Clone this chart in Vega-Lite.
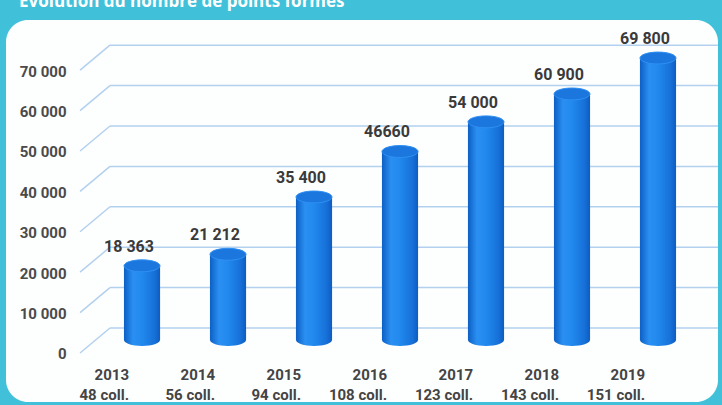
{
  "$schema": "https://vega.github.io/schema/vega-lite/v6.json",
  "autosize": {"type": "none"},
  "width": 712,
  "height": 382,
  "padding": {"left": 6, "top": 20, "right": 4, "bottom": 3},
  "background": "#41c1d9",
  "title": {
    "text": "Evolution du nombre de points formés",
    "anchor": "start",
    "frame": "group",
    "offset": -4,
    "baseline": "alphabetic",
    "dx": 13,
    "color": "#ffffff",
    "font": "Open Sans",
    "fontSize": 17,
    "fontWeight": "bold"
  },
  "datasets": {
    "bars": [
      {"year": "2013", "coll": "48 coll.", "value": 18363, "label": "18 363"},
      {"year": "2014", "coll": "56 coll.", "value": 21212, "label": "21 212"},
      {"year": "2015", "coll": "94 coll.", "value": 35400, "label": "35 400"},
      {"year": "2016", "coll": "108 coll.", "value": 46660, "label": "46660"},
      {"year": "2017", "coll": "123 coll.", "value": 54000, "label": "54 000"},
      {"year": "2018", "coll": "143 coll.", "value": 60900, "label": "60 900"},
      {"year": "2019", "coll": "151 coll.", "value": 69800, "label": "69 800"}
    ],
    "ticks": [
      {"v": 0}, {"v": 10000}, {"v": 20000}, {"v": 30000},
      {"v": 40000}, {"v": 50000}, {"v": 60000}, {"v": 70000}
    ]
  },
  "resolve": {"scale": {"x": "independent"}, "axis": {"x": "independent"}},
  "layer": [
    {
      "data": {"name": "ticks"},
      "mark": {"type": "rule", "color": "#b3d1ee", "strokeWidth": 1.5, "yOffset": -12},
      "encoding": {
        "x": {"datum": 0.146, "type": "quantitative", "scale": {"domain": [0, 1], "nice": false}, "axis": null},
        "x2": {"datum": 1},
        "y": {
          "field": "v", "type": "quantitative",
          "scale": {"domain": [-15347, 79208], "nice": false, "zero": false},
          "axis": {
            "title": null, "orient": "left", "offset": -64, "ticks": false, "domain": false, "grid": false,
            "values": [0, 10000, 20000, 30000, 40000, 50000, 60000, 70000],
            "format": ",d", "labelPadding": 4, "labelOffset": 14, "labelFlush": false, "labelOverlap": false,
            "labelFont": "Roboto", "labelFontSize": 15, "labelFontWeight": "bold", "labelColor": "#4a4a4a"
          }
        }
      }
    },
    {
      "data": {"name": "ticks"},
      "mark": {"type": "rule", "color": "#b3d1ee", "strokeWidth": 1.5, "yOffset": 13, "y2Offset": -12},
      "encoding": {
        "x": {"datum": 0.104, "type": "quantitative", "scale": {"domain": [0, 1], "nice": false}, "axis": null},
        "x2": {"datum": 0.146},
        "y": {"field": "v", "type": "quantitative"},
        "y2": {"field": "v"}
      }
    },
    {
      "data": {"name": "bars"},
      "layer": [
        {
          "mark": {
            "type": "point",
            "shape": "M-1,0A1,0.33 0 1,1 1,0A1,0.33 0 1,1 -1,0Z",
            "size": 1296,
            "filled": true,
            "opacity": 1,
            "strokeWidth": 0,
            "color": {"gradient": "linear", "x1": 0, "x2": 1, "y1": 0, "y2": 0,
              "stops": [
                {"offset": 0, "color": "#0d5fc4"},
                {"offset": 0.25, "color": "#2b8ff2"},
                {"offset": 0.5, "color": "#2189ee"},
                {"offset": 0.85, "color": "#1670d8"},
                {"offset": 1, "color": "#0e5cbf"}
              ]}
          },
          "encoding": {
            "x": {"field": "year", "type": "ordinal"},
            "y": {"datum": 0, "type": "quantitative"}
          }
        },
        {
          "mark": {
            "type": "bar",
            "color": {"gradient": "linear", "x1": 0, "x2": 1, "y1": 0, "y2": 0,
              "stops": [
                {"offset": 0, "color": "#0d5fc4"},
                {"offset": 0.25, "color": "#2b8ff2"},
                {"offset": 0.5, "color": "#2189ee"},
                {"offset": 0.85, "color": "#1670d8"},
                {"offset": 1, "color": "#0e5cbf"}
              ]}
          },
          "encoding": {
            "x": {
              "field": "year", "type": "ordinal",
              "scale": {"paddingInner": 0.58, "paddingOuter": 0.9297, "align": 0.7377},
              "axis": {
                "title": null, "orient": "bottom", "offset": -40, "ticks": false, "domain": false,
                "labelAngle": 0, "labelPadding": 5, "labelOffset": -13, "labelBaseline": "top",
                "labelLineHeight": 20,
                "labelFont": "Roboto", "labelFontSize": 15, "labelFontWeight": "bold", "labelColor": "#444444",
                "labelExpr": "[datum.label, {'2013':'48 coll.','2014':'56 coll.','2015':'94 coll.','2016':'108 coll.','2017':'123 coll.','2018':'143 coll.','2019':'151 coll.'}[datum.label]]"
              }
            },
            "y": {"field": "value", "type": "quantitative"}
          }
        },
        {
          "mark": {
            "type": "point",
            "shape": "M-1,0A1,0.33 0 1,1 1,0A1,0.33 0 1,1 -1,0Z",
            "size": 1296,
            "filled": true,
            "opacity": 1,
            "color": "#1b76de",
            "stroke": "#2f90f2",
            "strokeWidth": 1
          },
          "encoding": {
            "x": {"field": "year", "type": "ordinal"},
            "y": {"field": "value", "type": "quantitative"}
          }
        },
        {
          "mark": {
            "type": "text", "dx": -13, "dy": -19, "baseline": "middle", "align": "center",
            "font": "Roboto", "fontSize": 16, "fontWeight": "bold", "color": "#3a3a3a"
          },
          "encoding": {
            "x": {"field": "year", "type": "ordinal"},
            "y": {"field": "value", "type": "quantitative"},
            "text": {"field": "label"}
          }
        }
      ]
    }
  ],
  "config": {
    "locale": {"number": {"decimal": ",", "thousands": " ", "grouping": [3], "currency": ["", " €"]}},
    "view": {"fill": "#fdfefe", "stroke": null, "cornerRadius": 22}
  }
}
